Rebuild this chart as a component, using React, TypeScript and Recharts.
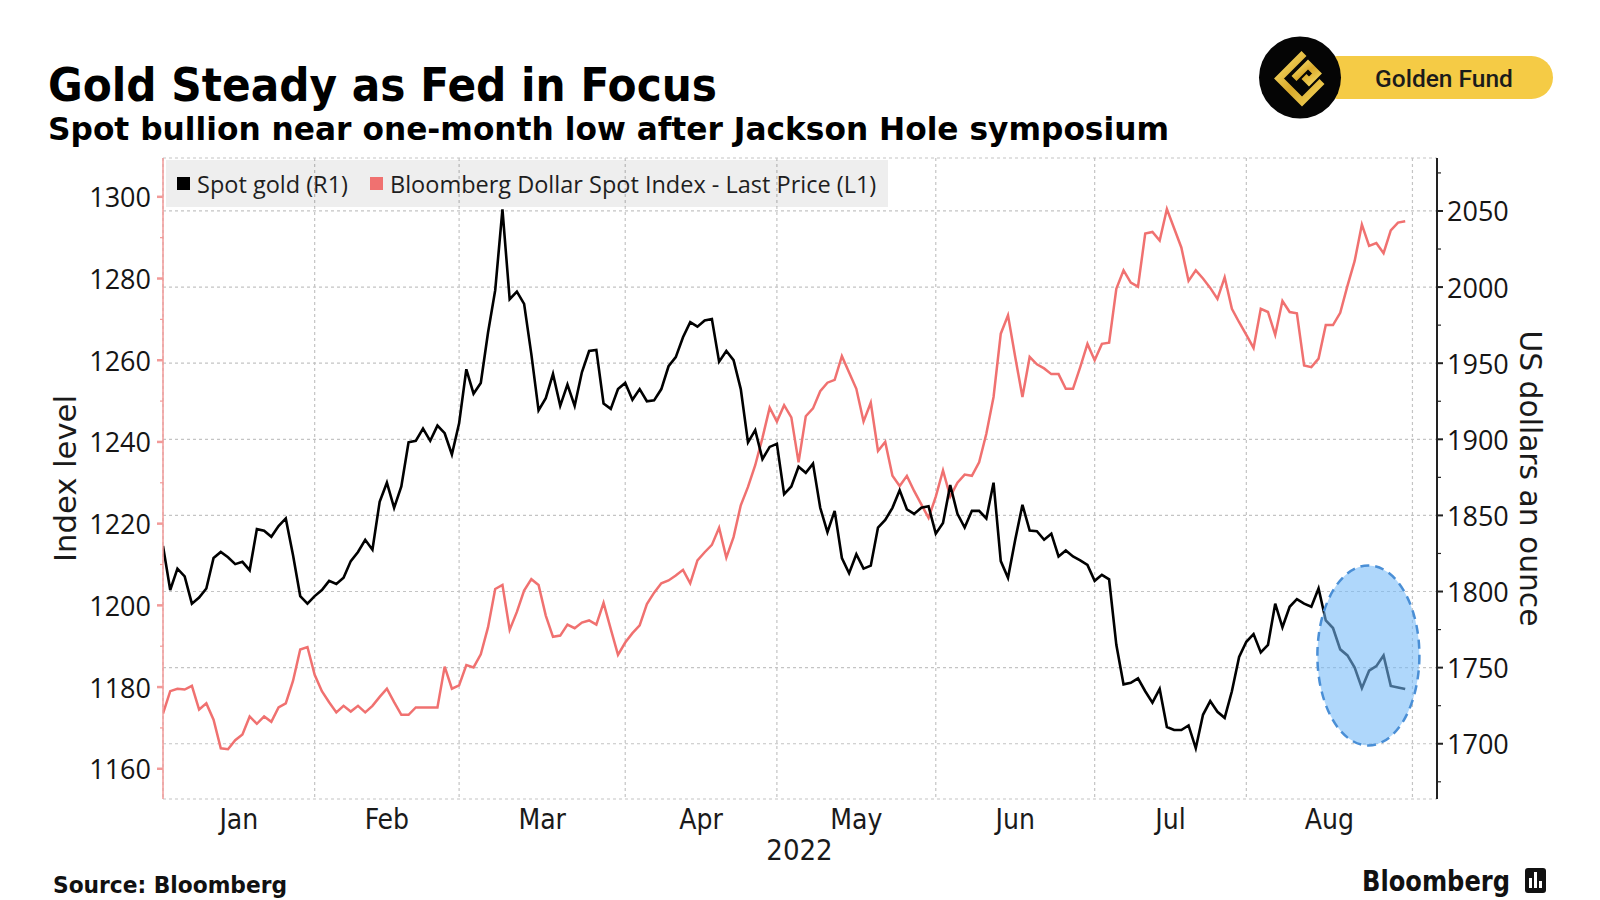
import React from 'react';
import { LineChart, Line, XAxis, YAxis, CartesianGrid, Legend, ReferenceDot } from 'recharts';

// ---- categories (weekday index from 31 Dec 2021; month boundaries on the last weekday of each month)
const monthBoundaries = [0, 21, 41, 64, 85, 107, 129, 150, 173];
const monthLabels = ['Jan', 'Feb', 'Mar', 'Apr', 'May', 'Jun', 'Jul', 'Aug'];
const monthLabelPositions = [10.5, 31, 52.5, 74.5, 96, 118, 139.5, 161.5];
const yearLabel = '2022';

// ---- series values
const goldValues = [
  1830, 1801, 1815, 1810, 1792, 1796, 1802, 1822, 1826, 1822.5,
  1818, 1819.5, 1814, 1841, 1840, 1836, 1843, 1848, 1824, 1797,
  1792, 1797, 1801, 1807, 1805, 1809, 1820, 1826, 1834, 1827.5,
  1859, 1871.5, 1855, 1869, 1898, 1899, 1907, 1899, 1909, 1904,
  1890, 1910.5, 1946, 1930, 1937, 1970, 1998, 2051, 1992, 1997,
  1989, 1956, 1919, 1927, 1943, 1922, 1936, 1922, 1944, 1958,
  1958.7, 1923.5, 1920, 1933, 1937, 1926, 1933, 1925, 1925.6, 1933,
  1948, 1954, 1967, 1977, 1974, 1978, 1979, 1951, 1958, 1952,
  1933, 1898, 1906, 1887, 1895, 1897, 1864, 1869, 1882, 1878,
  1884, 1855, 1839, 1853, 1822, 1812, 1824.5, 1815, 1817, 1842,
  1847, 1855, 1866.5, 1854, 1851, 1855, 1856, 1838, 1845, 1870,
  1851, 1842, 1853, 1853, 1848, 1871.5, 1820, 1809, 1834, 1857,
  1840, 1839.6, 1834, 1838, 1823, 1827, 1823, 1820.5, 1817.5, 1807,
  1811, 1808, 1765, 1739, 1740, 1743, 1734.5, 1727, 1736, 1711,
  1709, 1709, 1712, 1697, 1719, 1728, 1721, 1717, 1734.5, 1757,
  1767, 1772, 1760, 1765, 1792, 1776.5, 1790, 1795, 1792, 1790,
  1802, 1781, 1776, 1762, 1758, 1750, 1736.5, 1748, 1751, 1758,
  1738, 1737, 1736,
];
const dollarIndexValues = [
  1173.5, 1179, 1179.6, 1179.4, 1180.3, 1174.5, 1176, 1172, 1165, 1164.8,
  1167, 1168.4, 1172.8, 1171, 1172.8, 1171.5, 1175, 1176, 1181.5, 1189.2,
  1189.8, 1183, 1179, 1176.3, 1173.8, 1175.4, 1174, 1175.4, 1173.8, 1175.4,
  1177.6, 1179.6, 1176.3, 1173.2, 1173.2, 1175, 1175, 1175, 1175, 1185,
  1179.6, 1180.4, 1185.4, 1184.8, 1188, 1194.6, 1204, 1205, 1194, 1198.4,
  1203.6, 1206.4, 1205, 1197.5, 1192.3, 1192.6, 1195.3, 1194.4, 1195.8, 1196.3,
  1195.3, 1200.6, 1194.2, 1187.9, 1190.9, 1193.2, 1195.1, 1200.3, 1203.1, 1205.4,
  1206.1, 1207.3, 1208.7, 1205.4, 1211, 1213, 1214.8, 1219, 1211.7, 1216.7,
  1224.5, 1229, 1234.3, 1241, 1248.4, 1245, 1249, 1246, 1235, 1246.3,
  1248.2, 1252.4, 1254.5, 1255.2, 1261, 1257, 1253, 1245, 1249.6, 1237.8,
  1240, 1231.7, 1229.2, 1231.7, 1228, 1224.7, 1221.4, 1226.6, 1233, 1226.6,
  1230, 1232, 1231.7, 1235, 1242, 1251, 1266.5, 1271, 1260.8, 1251,
  1260.8, 1259, 1258, 1256.6, 1256.6, 1253, 1253, 1258.3, 1264, 1260,
  1264, 1264.3, 1277.5, 1282, 1279, 1278, 1291, 1291.4, 1289.3, 1297,
  1292.3, 1287.6, 1279.4, 1282, 1280, 1277.7, 1275, 1280.3, 1272.6, 1269.3,
  1266.2, 1263, 1272.6, 1271.8, 1266.2, 1274.5, 1271.8, 1271.5, 1258.7, 1258.3,
  1260.4, 1268.6, 1268.6, 1271.6, 1278.2, 1284.3, 1293.2, 1288, 1288.7, 1286.2,
  1291.8, 1293.7, 1294,
];

// ---- tick values
const leftTicks = [1160, 1170, 1180, 1190, 1200, 1210, 1220, 1230, 1240, 1250, 1260, 1270, 1280, 1290, 1300];
const leftMajorStep = 20;
const rightTicks = [1675, 1700, 1725, 1750, 1775, 1800, 1825, 1850, 1875, 1900, 1925, 1950, 1975, 2000, 2025, 2050, 2075];
const rightGridTicks = [1700, 1750, 1800, 1850, 1900, 1950, 2000, 2050];
const rightMajorStep = 50;

const xDomain = [0, 176.4];
const leftDomain = [1152.6, 1309.5];
const rightDomain = [1663.7, 2084.8];

// annotation (highlight of the post-Jackson Hole drop)
const highlightCenter = { index: 166.9, value: 1758 };

const legendOrder = ['gold', 'dxy'];

const data = goldValues.map((g, i) => ({ i, gold: g, dxy: dollarIndexValues[i] }));

const RED = '#f07170';
const RED_AXIS = '#f29a98';
const NUM_FONT = "'Open Sans', 'DejaVu Sans', sans-serif";
const COND_FONT = "'DejaVu Sans Condensed', 'Liberation Sans Narrow', 'DejaVu Sans', sans-serif";
const BOLD_FONT = "'DejaVu Sans', Verdana, sans-serif";

const LeftTick = (props: any) => {
  const { x, y, payload } = props;
  const v = payload.value;
  const major = v % leftMajorStep === 0;
  return (
    <g>
      <line x1={x} x2={x - (major ? 6 : 3)} y1={y} y2={y} stroke={RED_AXIS} strokeWidth={major ? 2.5 : 1.2} />
      {major && (
        <text x={x - 12} y={y} textAnchor="end" dominantBaseline="central" fontFamily={NUM_FONT} fontSize={27} fill="#151515">
          {v}
        </text>
      )}
    </g>
  );
};

const RightTick = (props: any) => {
  const { x, y, payload } = props;
  const v = payload.value;
  const major = v % rightMajorStep === 0;
  return (
    <g>
      <line x1={x} x2={x + (major ? 6 : 4)} y1={y} y2={y} stroke="#222" strokeWidth={major ? 2 : 1.2} />
      {major && (
        <text x={x + 10} y={y} textAnchor="start" dominantBaseline="central" fontFamily={NUM_FONT} fontSize={27} fill="#151515">
          {v}
        </text>
      )}
    </g>
  );
};

const MonthTick = (props: any) => {
  const { x, y, index } = props;
  return (
    <text x={x} y={y + 30} textAnchor="middle" fontFamily={COND_FONT} fontStretch="condensed" fontSize={28} fill="#1a1a1a">
      {monthLabels[index]}
    </text>
  );
};

const LegendContent = (props: any) => {
  const payload = (props.payload || []).slice().sort(
    (a: any, b: any) => legendOrder.indexOf(a.dataKey) - legendOrder.indexOf(b.dataKey)
  );
  return (
    <div
      style={{
        display: 'flex',
        alignItems: 'center',
        height: 47,
        width: 722,
        background: 'rgba(0,0,0,0.065)',
        paddingLeft: 11,
        boxSizing: 'border-box',
        fontFamily: NUM_FONT,
        fontSize: 23.5,
        color: '#1e1e1e',
        whiteSpace: 'nowrap',
      }}
    >
      {payload.map((p: any, k: number) => (
        <div key={k} style={{ display: 'flex', alignItems: 'center', marginRight: 22 }}>
          <span style={{ display: 'inline-block', width: 13, height: 13, background: p.color, marginRight: 7 }} />
          <span>{p.value}</span>
        </div>
      ))}
    </div>
  );
};

const HighlightShape = (props: any) => {
  const { cx, cy } = props;
  return (
    <ellipse
      cx={cx}
      cy={cy}
      rx={51}
      ry={90}
      fill="rgb(118,186,248)"
      fillOpacity={0.58}
      stroke="#4a8fd6"
      strokeWidth={2.5}
      strokeDasharray="9 6"
    />
  );
};

const GoldenFundLogo = () => (
  <g>
    <defs>
      <linearGradient id="gfg" x1="0" y1="0" x2="1" y2="1">
        <stop offset="0" stopColor="#f7dd6a" />
        <stop offset="0.5" stopColor="#d9a92a" />
        <stop offset="1" stopColor="#f3d35a" />
      </linearGradient>
    </defs>
    <rect x={1316} y={56} width={237} height={43} rx={21.5} fill="#f5cb45" />
    <text x={1444} y={78} textAnchor="middle" dominantBaseline="central" fontFamily="Roboto, 'Noto Sans', sans-serif" fontWeight={500} fontSize={24.5} fill="#1b1b1b">
      Golden Fund
    </text>
    <circle cx={1300} cy={77.5} r={41} fill="#050505" />
    <g transform="translate(1300,77.5)" fill="none" stroke="url(#gfg)" strokeWidth={7} strokeLinejoin="miter">
      <path d="M 4 -24 L -21 1 L 2 24 L 22 4" />
      <path d="M -6 1 L 8 -13 L 17 -4 L 9 4 L 4 -1" />
    </g>
  </g>
);

export default function App() {
  return (
    <div style={{ position: 'absolute', left: 0, top: 0, width: 1600, height: 900, background: '#ffffff', overflow: 'hidden' }}>
      <svg width={1600} height={900} style={{ position: 'absolute', left: 0, top: 0 }}>
        <text x={48} y={101} fontFamily={BOLD_FONT} fontWeight={700} fontSize={46} textLength={669} lengthAdjust="spacingAndGlyphs" fill="#000">
          Gold Steady as Fed in Focus
        </text>
        <text x={48} y={140} fontFamily={BOLD_FONT} fontWeight={700} fontSize={32} textLength={1121} lengthAdjust="spacingAndGlyphs" fill="#000">
          Spot bullion near one-month low after Jackson Hole symposium
        </text>
        <GoldenFundLogo />
        <text x={799.5} y={860} textAnchor="middle" fontFamily={COND_FONT} fontStretch="condensed" fontSize={29} fill="#1a1a1a">
          {yearLabel}
        </text>
        <text x={53} y={893} fontFamily={BOLD_FONT} fontWeight={700} fontSize={23} textLength={234} lengthAdjust="spacingAndGlyphs" fill="#111">
          Source: Bloomberg
        </text>
        <text x={1362} y={891} fontFamily={BOLD_FONT} fontWeight={700} fontSize={28} textLength={148} lengthAdjust="spacingAndGlyphs" fill="#111">
          Bloomberg
        </text>
        <g>
          <rect x={1525} y={868} width={21} height={25} rx={3} fill="#111" />
          <rect x={1529} y={878} width={3} height={10} fill="#fff" />
          <rect x={1534} y={872} width={3} height={16} fill="#fff" />
          <rect x={1539} y={881} width={3} height={7} fill="#fff" />
        </g>
      </svg>
      <div style={{ position: 'absolute', left: 0, top: 0 }}>
        <LineChart width={1600} height={900} data={data} margin={{ top: 158, right: 53, bottom: 61, left: 53 }}>
          <XAxis
            xAxisId="x"
            dataKey="i"
            type="number"
            domain={xDomain}
            allowDataOverflow
            ticks={monthLabelPositions}
            interval={0}
            axisLine={false}
            tickLine={false}
            tickSize={0}
            tickMargin={0}
            height={40}
            tick={<MonthTick />}
          />
          <XAxis xAxisId="grid" dataKey="i" type="number" domain={xDomain} allowDataOverflow ticks={monthBoundaries} interval={0} height={0} hide />
          <YAxis
            yAxisId="left"
            orientation="left"
            type="number"
            domain={leftDomain}
            allowDataOverflow
            ticks={leftTicks}
            interval={0}
            width={110}
            axisLine={{ stroke: RED_AXIS, strokeWidth: 1.5 }}
            tickLine={false}
            tickSize={0}
            tickMargin={0}
            tick={<LeftTick />}
            label={{
              content: (p: any) => {
                const vb = p.viewBox || { x: 53, y: 158, width: 110, height: 641 };
                const cx = vb.x + 12;
                const cy = vb.y + vb.height / 2;
                return (
                  <text x={0} y={0} transform={`translate(${cx},${cy}) rotate(-90)`} textAnchor="middle" dominantBaseline="central" fontFamily={COND_FONT} fontStretch="condensed" fontSize={31} textLength={167} lengthAdjust="spacingAndGlyphs" fill="#1a1a1a">
                    Index level
                  </text>
                );
              },
            }}
          />
          <YAxis
            yAxisId="right"
            orientation="right"
            type="number"
            domain={rightDomain}
            allowDataOverflow
            ticks={rightTicks}
            interval={0}
            width={110}
            axisLine={{ stroke: '#222', strokeWidth: 2 }}
            tickLine={false}
            tickSize={0}
            tickMargin={0}
            tick={<RightTick />}
            label={{
              content: (p: any) => {
                const vb = p.viewBox || { x: 1437, y: 158, width: 110, height: 641 };
                const cx = vb.x + 94;
                const cy = vb.y + vb.height / 2;
                return (
                  <text x={0} y={0} transform={`translate(${cx},${cy}) rotate(90)`} textAnchor="middle" dominantBaseline="central" fontFamily={COND_FONT} fontStretch="condensed" fontSize={31} textLength={296} lengthAdjust="spacingAndGlyphs" fill="#1a1a1a">
                    US dollars an ounce
                  </text>
                );
              },
            }}
          />
          <YAxis yAxisId="gridY" orientation="right" type="number" domain={rightDomain} allowDataOverflow ticks={rightGridTicks} interval={0} width={0} hide />
          <CartesianGrid xAxisId="grid" yAxisId="gridY" stroke="#c4c4c4" strokeWidth={1.2} strokeDasharray="3 3" />
          <Legend
            layout="vertical"
            align="center"
            verticalAlign="middle"
            wrapperStyle={{ position: 'absolute', left: 166, top: 160, width: 722, height: 47, margin: 0 }}
            content={<LegendContent />}
          />
          <Line
            xAxisId="x"
            yAxisId="left"
            type="linear"
            dataKey="dxy"
            name="Bloomberg Dollar Spot Index - Last Price (L1)"
            stroke={RED}
            strokeWidth={2.5}
            dot={false}
            activeDot={false}
            isAnimationActive={false}
          />
          <Line
            xAxisId="x"
            yAxisId="right"
            type="linear"
            dataKey="gold"
            name="Spot gold (R1)"
            stroke="#000000"
            strokeWidth={2.6}
            dot={false}
            activeDot={false}
            isAnimationActive={false}
          />
          <ReferenceDot
            xAxisId="x"
            yAxisId="right"
            x={highlightCenter.index}
            y={highlightCenter.value}
            shape={<HighlightShape />}
            zIndex={1000}
          />
        </LineChart>
      </div>
    </div>
  );
}
